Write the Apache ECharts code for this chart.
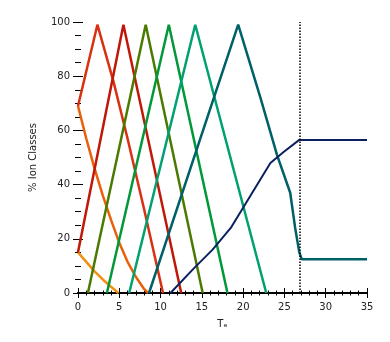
<!DOCTYPE html>
<html>
<head>
<meta charset="utf-8">
<script src="https://cdn.jsdelivr.net/npm/echarts@6/dist/echarts.min.js"></script>
<style>
  html, body { margin: 0; padding: 0; background: #fff; }
  #chart { width: 390px; height: 342px; }
</style>
</head>
<body>
<div id="chart"></div>
<script>
// 轴刻度
const xTicks = [0, 5, 10, 15, 20, 25, 30, 35]
const yTicks = [0, 20, 40, 60, 80, 100]
const cutoffX = 26.8

// 各条曲线 [x, y]
const lightOrange = [[0, 15], [1, 11.5], [2, 8], [3, 5], [4, 2.3], [4.9, 0]]
const orange = [[0, 69], [1, 57], [2, 46], [3, 36], [4, 27], [5, 18.5], [6, 11.5], [7, 6], [8, 1.5], [8.5, 0]]
const redOrange = [[0, 69], [2.35, 99], [4.3, 78], [6, 57], [8, 31], [10, 4], [10.3, 0]]
const darkRed = [[0, 15], [5.5, 99], [12.5, 0]]
const olive = [[1.2, 0], [8.2, 99], [15.1, 0]]
const green = [[3.5, 0], [11, 99], [18.1, 0]]
const tealGreen = [[6.2, 0], [14.2, 99], [22.8, 0]]
const teal = [[8.6, 0], [19.4, 99], [22.1, 72], [24.1, 51], [25.7, 37], [26.3, 24], [26.8, 15], [27.1, 12.5], [35, 12.5]]
const navy = [[11.2, 0], [14, 9], [16.3, 16], [18.5, 24], [20.9, 36], [23.3, 48], [24.9, 52], [26.8, 56.5], [35, 56.5]]

const lines = [
  { name: 'a', data: lightOrange, color: '#f09010', width: 2.5 },
  { name: 'b', data: orange, color: '#e8600c', width: 2.5 },
  { name: 'c', data: redOrange, color: '#d83010', width: 2.5 },
  { name: 'd', data: darkRed, color: '#c01808', width: 2.5 },
  { name: 'e', data: olive, color: '#4a7a00', width: 2.5 },
  { name: 'f', data: green, color: '#009838', width: 2.5 },
  { name: 'g', data: tealGreen, color: '#00a070', width: 2.5 },
  { name: 'h', data: teal, color: '#006068', width: 2.5 },
  { name: 'i', data: navy, color: '#0a2060', width: 2 }
]

const labelFont = { fontFamily: 'DejaVu Sans', fontSize: 10, color: '#222' }

const chart = echarts.init(document.getElementById('chart'))

const series = lines.map(l => ({
  name: l.name,
  type: 'line',
  data: l.data,
  showSymbol: false,
  animation: false,
  lineStyle: { color: l.color, width: l.width },
  itemStyle: { color: l.color }
}))

// 竖直虚线
series[series.length - 1].markLine = {
  silent: true,
  symbol: 'none',
  label: { show: false },
  lineStyle: { type: 'dotted', color: '#000', width: 1.5 },
  data: [{ xAxis: cutoffX }]
}

const xBase = {
  type: 'value',
  min: xTicks[0],
  max: xTicks[xTicks.length - 1],
  interval: 5,
  splitLine: { show: false },
  axisLine: { show: true, lineStyle: { color: '#000', width: 2 } },
  axisTick: { inside: true, length: 5, lineStyle: { color: '#000' } },
  minorTick: { show: true, splitNumber: 5, length: 2.5, lineStyle: { color: '#000' } }
}
const yBase = {
  type: 'value',
  min: yTicks[0],
  max: yTicks[yTicks.length - 1],
  interval: 20,
  splitLine: { show: false },
  axisLine: { show: false },
  axisTick: { show: true, inside: true, length: 5, lineStyle: { color: '#000' } },
  minorTick: { show: true, splitNumber: 4, length: 3, lineStyle: { color: '#000' } }
}

chart.setOption({
  animation: false,
  grid: { left: 78, right: 23, top: 22, bottom: 49 },
  xAxis: [
    Object.assign({}, xBase, {
      position: 'bottom',
      name: 'Tₑ',
      nameLocation: 'middle',
      nameGap: 26,
      nameTextStyle: labelFont,
      axisLabel: Object.assign({ margin: 9 }, labelFont)
    }),
    Object.assign({}, xBase, { position: 'top', axisLabel: { show: false } })
  ],
  yAxis: [
    Object.assign({}, yBase, {
      position: 'left',
      name: '% Ion Classes',
      nameLocation: 'middle',
      nameGap: 40,
      nameRotate: 90,
      nameTextStyle: labelFont,
      axisLabel: Object.assign({ margin: 8 }, labelFont)
    }),
    Object.assign({}, yBase, { position: 'right', axisLabel: { show: false } })
  ],
  series: series
})
</script>
</body>
</html>
